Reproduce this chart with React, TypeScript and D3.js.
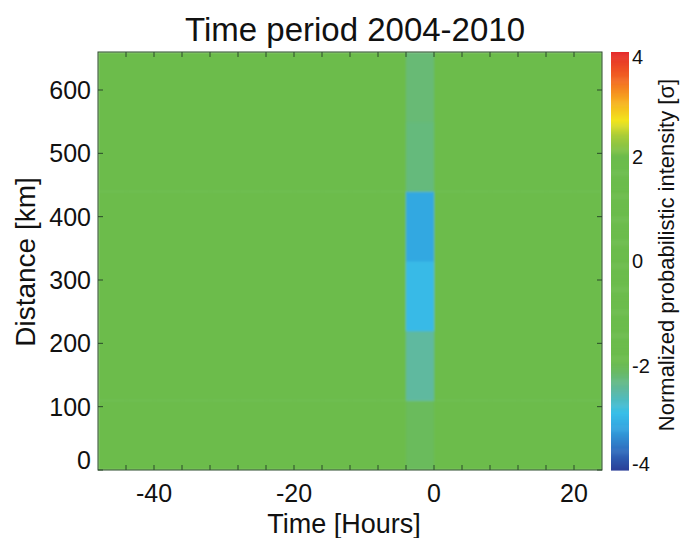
import React from "react";
import * as d3 from "d3";

// Time bin edges (hours) and distance bin edges (km)
const timeEdges = [-48, -44, -40, -36, -32, -28, -24, -20, -16, -12, -8, -4, 0, 4, 8, 12, 16, 20, 24];
const distEdges = [0, 110, 220, 330, 440, 550, 660];

// Values per distance bin (σ), one per time bin
const row0 = [0.1, 0.2, 0.1, 0.0, 0.1, 0.2, 0.1, 0.0, 0.1, 0.0, 0.1, -2.05, 0.1, 0.0, 0.1, 0.2, 0.1, 0.0];
const row1 = [0.0, 0.1, 0.2, 0.1, 0.0, 0.1, 0.0, 0.1, 0.2, 0.1, 0.0, -2.45, 0.0, 0.1, 0.0, 0.1, 0.0, 0.1];
const row2 = [0.1, 0.0, 0.1, 0.0, 0.2, 0.0, 0.1, 0.0, 0.1, 0.0, 0.1, -2.95, 0.1, 0.0, 0.1, 0.0, 0.2, 0.0];
const row3 = [0.0, 0.1, 0.0, 0.1, 0.0, 0.1, 0.2, 0.1, 0.0, 0.1, 0.0, -3.15, 0.0, 0.1, 0.0, 0.1, 0.0, 0.1];
const row4 = [0.1, 0.2, 0.0, 0.1, 0.1, 0.0, 0.1, 0.0, 0.1, 0.2, 0.1, -2.25, 0.1, 0.0, 0.1, 0.0, 0.1, 0.0];
const row5 = [0.2, 0.3, 0.1, 0.0, 0.1, 0.1, 0.0, 0.1, 0.0, 0.1, 0.0, -2.2, 0.0, 0.1, 0.0, 0.1, 0.1, 0.0];
const rows = [row0, row1, row2, row3, row4, row5];

const xTickMarks = [-44, -40, -36, -32, -28, -24, -20, -16, -12, -8, -4, 0, 4, 8, 12, 16, 20];
const xTickLabels = [-40, -20, 0, 20];
const yTickLabels = [0, 100, 200, 300, 400, 500, 600];
const cbTicks = [-4, -2, 0, 2, 4];

const cmapStops = [-4, -3.6, -3.2, -2.9, -2.5, -2.1, -1.9, 2.0, 2.4, 2.7, 3.1, 3.5, 4];
const cmapColors = ["#2b3f98", "#2f6fc0", "#32a3df", "#38bfe9", "#5db9a8", "#6aba62", "#6cbc4c", "#6cbc4c", "#a8cc3a", "#f2e51d", "#f7a820", "#f26522", "#e52a2a"];

const W = 687, H = 538;
const left = 98, right = 602, top = 52, bottom = 470;
const cbX0 = 611, cbX1 = 629;
const font = "'Liberation Sans', Arial, Helvetica, sans-serif";

export default function App() {
  const x = d3.scaleLinear().domain([-48, 24]).range([left, right]);
  const y = d3.scaleLinear().domain([0, 660]).range([bottom, top]);
  const color = d3.scaleLinear<string>().domain(cmapStops).range(cmapColors).interpolate(d3.interpolateRgb).clamp(true);
  const cb = d3.scaleLinear().domain([-4, 4]).range([bottom, top]);

  const cells: React.ReactNode[] = [];
  rows.forEach((row, j) => {
    row.forEach((v, i) => {
      const x0 = x(timeEdges[i]), x1 = x(timeEdges[i + 1]);
      const y0 = y(distEdges[j + 1]), y1 = y(distEdges[j]);
      cells.push(<rect key={`c${j}-${i}`} x={x0} y={y0} width={x1 - x0 + 0.5} height={y1 - y0 + 0.5} fill={color(v)} />);
    });
  });

  const cbSteps = d3.range(-4, 4, 0.02);
  return (
    <svg width={W} height={H} style={{ position: "absolute", left: 0, top: 0, background: "#fff" }} fontFamily={font}>
      <defs>
        <clipPath id="plotclip"><rect x={left} y={top} width={right - left} height={bottom - top} /></clipPath>
        <filter id="soft" x="-5%" y="-5%" width="110%" height="110%"><feGaussianBlur stdDeviation="1.2" /></filter>
      </defs>
      <text x={355} y={41} textAnchor="middle" fontSize={33} fill="#111">Time period 2004-2010</text>
      <g clipPath="url(#plotclip)">
        <g filter="url(#soft)">{cells}</g>
      </g>
      <rect x={left} y={top} width={right - left} height={bottom - top} fill="none" stroke="#2a4a2a" strokeWidth={1} />
      {xTickMarks.map((t) => (
        <g key={`xt${t}`}>
          <line x1={x(t)} x2={x(t)} y1={bottom} y2={bottom - 5} stroke="#2a4a2a" strokeWidth={1} />
          <line x1={x(t)} x2={x(t)} y1={top} y2={top + 5} stroke="#2a4a2a" strokeWidth={1} />
        </g>
      ))}
      {xTickLabels.map((t) => (
        <text key={`xl${t}`} x={x(t)} y={502} textAnchor="middle" fontSize={25} fill="#111">{t}</text>
      ))}
      {yTickLabels.map((t) => (
        <g key={`yt${t}`}>
          <line x1={left} x2={left + 5} y1={y(t)} y2={y(t)} stroke="#2a4a2a" strokeWidth={1} />
          <line x1={right} x2={right - 5} y1={y(t)} y2={y(t)} stroke="#2a4a2a" strokeWidth={1} />
          <text x={left - 7} y={Math.min(y(t), bottom - 10) + 9} textAnchor="end" fontSize={25} fill="#111">{t}</text>
        </g>
      ))}
      <text x={344} y={533} textAnchor="middle" fontSize={27} fill="#111">Time [Hours]</text>
      <text transform={`translate(35,262) rotate(-90)`} textAnchor="middle" fontSize={28} fill="#111">Distance [km]</text>
      {cbSteps.map((v) => (
        <rect key={`cb${v.toFixed(2)}`} x={cbX0} y={cb(v + 0.02)} width={cbX1 - cbX0} height={cb(v) - cb(v + 0.02) + 0.6} fill={color(v + 0.01)} />
      ))}
      {cbTicks.map((t) => (
        <text key={`cbl${t}`} x={cbX1 + 3} y={Math.max(Math.min(cb(t), bottom - 6), top + 5) + 7} fontSize={20} fill="#111">{t}</text>
      ))}
      <text transform={`translate(674,255) rotate(-90)`} textAnchor="middle" fontSize={22} fill="#111">Normalized probabilistic intensity [σ]</text>
    </svg>
  );
}
